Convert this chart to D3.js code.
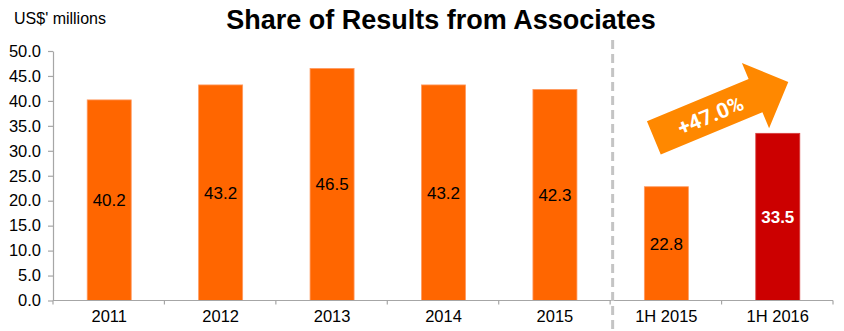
<!DOCTYPE html>
<html>
<head>
<meta charset="utf-8">
<script src="https://cdn.jsdelivr.net/npm/d3@7"></script>
<style>
  html, body { margin: 0; padding: 0; background: #fff; }
  svg { display: block; font-family: "Liberation Sans", Arial, sans-serif; }
</style>
</head>
<body>
<svg id="chart" width="844" height="331"></svg>
<script>
// ---- data ----
const categories = ["2011", "2012", "2013", "2014", "2015", "1H 2015", "1H 2016"];
const values = [40.2, 43.2, 46.5, 43.2, 42.3, 22.8, 33.5];
const highlight = [false, false, false, false, false, false, true];
const yTicks = [0, 5, 10, 15, 20, 25, 30, 35, 40, 45, 50];
const titleText = "Share of Results from Associates";
const unitText = "US$' millions";
const growthText = "+47.0%";

// ---- layout ----
const W = 844, H = 331;
const mLeft = 53, mRight = 833, mTop = 51, mBottom = 300.5;
const svg = d3.select("#chart");

const x = d3.scaleBand().domain(categories).range([mLeft, mRight]).padding(0);
const y = d3.scaleLinear().domain([0, 50]).range([mBottom, mTop]);
const barW = x.bandwidth() * 0.395;

const orange = "#FF6600", red = "#CC0000", axisGray = "#A6A6A6";

// title & unit
svg.append("text").attr("x", 441).attr("y", 28.5).attr("text-anchor", "middle")
  .attr("font-size", 27).attr("font-weight", "bold").attr("fill", "#000").text(titleText);
svg.append("text").attr("x", 14).attr("y", 24).attr("font-size", 16)
  .attr("fill", "#000").text(unitText);

// y axis
const yAxis = d3.axisLeft(y).tickValues(yTicks).tickFormat(d3.format(".1f"))
  .tickSize(5).tickPadding(7).tickSizeOuter(0);
const gy = svg.append("g").attr("transform", `translate(${mLeft},0)`).call(yAxis);
gy.select(".domain").attr("stroke", axisGray).attr("stroke-width", 1.2);
gy.selectAll(".tick line").attr("stroke", axisGray).attr("stroke-width", 1.2);
gy.selectAll(".tick text").attr("fill", "#000").attr("font-size", 16.5)
  .attr("font-family", "Liberation Sans, Arial, sans-serif");

// bars
svg.append("g").selectAll("rect").data(categories).join("rect")
  .attr("x", (c) => x(c) + (x.bandwidth() - barW) / 2 + 0.5)
  .attr("width", barW)
  .attr("y", (c, i) => y(values[i]))
  .attr("height", (c, i) => y(0) - y(values[i]))
  .attr("fill", (c, i) => highlight[i] ? red : orange)
  .attr("stroke", (c, i) => highlight[i] ? "#D84040" : "#FF9A60")
  .attr("stroke-width", 0.8);

// value labels
svg.append("g").selectAll("text").data(categories).join("text")
  .attr("x", (c) => x(c) + x.bandwidth() / 2 + 0.5)
  .attr("y", (c, i) => y(values[i] / 2))
  .attr("dy", "0.35em")
  .attr("text-anchor", "middle")
  .attr("font-size", 17)
  .attr("font-weight", (c, i) => highlight[i] ? "bold" : "normal")
  .attr("fill", (c, i) => highlight[i] ? "#fff" : "#000")
  .text((c, i) => values[i].toFixed(1));

// x axis line and boundary ticks
svg.append("line").attr("x1", mLeft).attr("x2", mRight).attr("y1", y(0)).attr("y2", y(0))
  .attr("stroke", axisGray).attr("stroke-width", 1.2);
const edges = categories.map((c) => x(c)).concat([x(categories[categories.length - 1]) + x.bandwidth()]);
svg.append("g").selectAll("line").data(edges).join("line")
  .attr("x1", (d) => d).attr("x2", (d) => d)
  .attr("y1", y(0)).attr("y2", y(0) + 4)
  .attr("stroke", axisGray).attr("stroke-width", 1.2);
svg.append("g").selectAll("text").data(categories).join("text")
  .attr("x", (c) => x(c) + x.bandwidth() / 2 + 0.5)
  .attr("y", 322)
  .attr("text-anchor", "middle").attr("font-size", 16.5).attr("fill", "#000")
  .text((c) => c);

// dashed separator between annual and half-year
const sepX = x("1H 2015") + 2.5;
svg.append("line").attr("x1", sepX).attr("x2", sepX).attr("y1", 40).attr("y2", H)
  .attr("stroke", "#C4C4C4").attr("stroke-width", 3).attr("stroke-dasharray", "9,5");

// growth arrow
const tail = [x("1H 2015") + x.bandwidth() / 2 - 12, y(32.6)];
const tip = [x("1H 2016") + x.bandwidth() / 2 + 11, y(43.8)];
const L = Math.hypot(tip[0] - tail[0], tip[1] - tail[1]);
const ang = Math.atan2(tip[1] - tail[1], tip[0] - tail[0]) * 180 / Math.PI;
const sw = 18, hw = 35.4, hl = 35.5;
const pts = [[0, -sw], [L - hl, -sw], [L - hl, -hw], [L, 0], [L - hl, hw], [L - hl, sw], [0, sw]];
const ga = svg.append("g").attr("transform", `translate(${tail[0]},${tail[1]}) rotate(${ang})`);
ga.append("polygon").attr("points", pts.map((p) => p.join(",")).join(" ")).attr("fill", "#FF8800");
ga.append("text").attr("x", 61).attr("y", 1).attr("dy", "0.35em").attr("text-anchor", "middle")
  .attr("font-family", "Roboto, sans-serif").attr("font-weight", "bold").attr("font-size", 21)
  .attr("fill", "#fff").text(growthText);
</script>
</body>
</html>
